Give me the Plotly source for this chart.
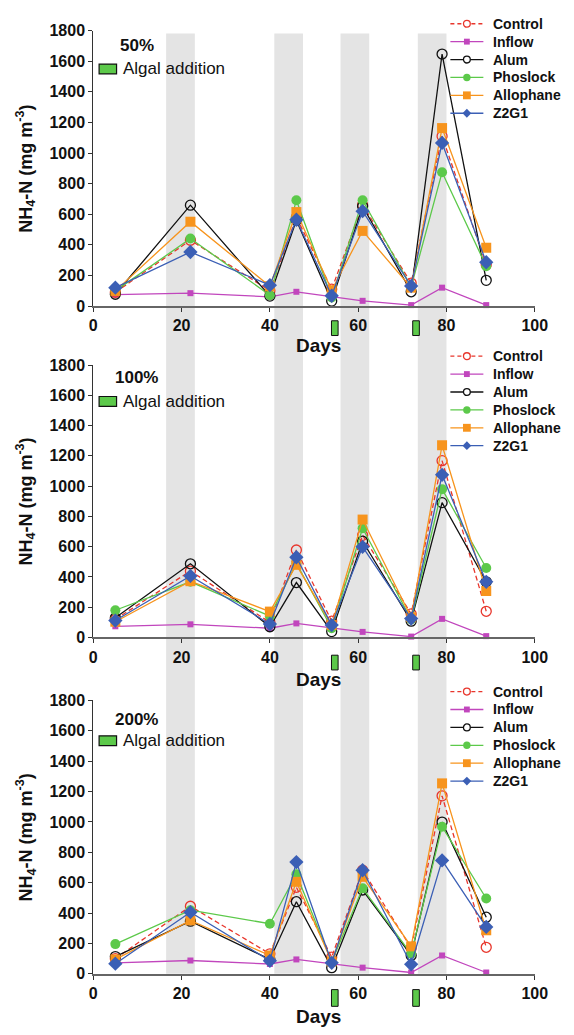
import plotly.graph_objects as go

W, H = 574, 1035

days = [5, 22, 40, 46, 54, 61, 72, 79, 89]
inflow_days = [5, 22, 40, 46, 61, 72, 79, 89]
series_names = ["Control", "Inflow", "Alum", "Phoslock", "Allophane", "Z2G1"]
panel_labels = ["50%", "100%", "200%"]
shade_periods = [(16.5, 23.0), (41.0, 47.5), (56.0, 62.5), (73.5, 80.0)]
algal_days = [54.7, 73.1]
x_ticks = [0, 20, 40, 60, 80, 100]
y_ticks = [0, 200, 400, 600, 800, 1000, 1200, 1400, 1600, 1800]

# Panel 1 (50%)
p1_control = [90, 430, 100, 580, 110, 660, 150, 1110, 270]
p1_inflow = [75, 84, 60, 93, 34, 6, 120, 6]
p1_alum = [77, 659, 65, 560, 32, 652, 93, 1647, 168]
p1_phoslock = [99, 441, 71, 691, 56, 691, 125, 874, 260]
p1_allophane = [99, 551, 129, 614, 103, 491, 120, 1163, 381]
p1_z2g1 = [120, 353, 136, 564, 67, 620, 131, 1066, 286]

# Panel 2 (100%)
p2_control = [120, 439, 100, 578, 108, 675, 156, 1168, 173]
p2_inflow = [74, 87, 61, 93, 37, 6, 123, 9]
p2_alum = [130, 487, 71, 363, 39, 636, 108, 891, 368]
p2_phoslock = [180, 368, 141, 490, 61, 722, 119, 980, 459]
p2_allophane = [104, 372, 171, 480, 82, 779, 134, 1270, 307]
p2_z2g1 = [112, 407, 89, 530, 82, 599, 125, 1075, 368]

# Panel 3 (200%)
p3_control = [100, 445, 132, 570, 110, 682, 170, 1172, 175]
p3_inflow = [73, 88, 65, 95, 41, 9, 121, 9]
p3_alum = [114, 347, 95, 475, 41, 552, 121, 999, 373]
p3_phoslock = [196, 419, 330, 656, 78, 563, 132, 969, 496]
p3_allophane = [95, 352, 121, 606, 82, 639, 181, 1254, 287]
p3_z2g1 = [67, 406, 86, 736, 73, 682, 63, 747, 309]

panels = [
    [p1_control, p1_inflow, p1_alum, p1_phoslock, p1_allophane, p1_z2g1],
    [p2_control, p2_inflow, p2_alum, p2_phoslock, p2_allophane, p2_z2g1],
    [p3_control, p3_inflow, p3_alum, p3_phoslock, p3_allophane, p3_z2g1],
]

FONT = "Liberation Sans, Arial, Helvetica, sans-serif"
styles = {
    "Control": dict(color="#e8362c", symbol="circle-open", size=10, dash="5px,3px", width=1.3, mlw=1.3),
    "Inflow": dict(color="#c146bd", symbol="square", size=6, dash="solid", width=1.3, mlw=0),
    "Alum": dict(color="#111111", symbol="circle-open", size=10, dash="solid", width=1.3, mlw=1.3),
    "Phoslock": dict(color="#5cc94a", symbol="circle", size=10, dash="solid", width=1.3, mlw=0),
    "Allophane": dict(color="#f7941d", symbol="square", size=10, dash="solid", width=1.3, mlw=0),
    "Z2G1": dict(color="#3b5fb5", symbol="diamond", size=11, dash="solid", width=1.3, mlw=0),
}
# legend key marker half-sizes (px)
legend_half = {"Control": 3.5, "Inflow": 3, "Alum": 3.5, "Phoslock": 3.8, "Allophane": 4, "Z2G1": 4.5}

# pixel layout
x_left, x_right = 92, 547
y_tops = [23, 363, 704]
y_bots = [303, 640, 982]
legend_first_row = [16, 354, 695]
legend_step = 18.2
label_y = [38, 376, 723]
box_y = [(57, 67), (395, 405), (740, 750)]
days_y = [343, 683, 1025]
marker_y = [(318, 333), (658, 673), (998, 1015)]


def py(p):
    return 1 - p / H


def px(p):
    return p / W


fig = go.Figure()
draw_order = ["Inflow", "Control", "Alum", "Phoslock", "Allophane", "Z2G1"]

for i, data in enumerate(panels):
    xa = "x" if i == 0 else f"x{i+1}"
    ya = "y" if i == 0 else f"y{i+1}"
    for name in draw_order:
        k = series_names.index(name)
        s = styles[name]
        xs = inflow_days if name == "Inflow" else days
        fig.add_trace(go.Scatter(
            x=xs, y=data[k], name=name, mode="lines+markers",
            xaxis=xa, yaxis=ya, showlegend=False,
            line=dict(color=s["color"], width=s["width"], dash=s["dash"]),
            marker=dict(color=s["color"], symbol=s["symbol"], size=s["size"],
                        line=dict(color=s["color"], width=s["mlw"])),
            cliponaxis=False,
        ))

layout = dict(
    width=W, height=H, margin=dict(l=0, r=0, t=0, b=0),
    paper_bgcolor="white", plot_bgcolor="rgba(0,0,0,0)",
    font=dict(family=FONT, color="#111111"),
    showlegend=False,
)

axis_x = dict(range=[0, 100], tickvals=x_ticks, ticks="outside", ticklen=4, tickwidth=1,
              tickcolor="#333", showline=True, linecolor="#666", linewidth=2,
              showgrid=False, zeroline=False,
              tickfont=dict(family=FONT, size=16, color="#111", weight="bold"), fixedrange=True)
axis_y = dict(range=[0, 1800], tickvals=y_ticks, ticks="outside", ticklen=4, tickwidth=1,
              tickcolor="#333", showline=True, linecolor="#333", linewidth=1,
              showgrid=False, zeroline=False,
              tickfont=dict(family=FONT, size=16, color="#111", weight="bold"), fixedrange=True)

annotations = []
shapes = []

# shaded periods spanning all panels
for a, b in shade_periods:
    shapes.append(dict(type="rect", xref="x", yref="paper", x0=a, x1=b,
                       y0=py(y_bots[2]), y1=py(y_tops[0] + 3), fillcolor="#e4e4e4",
                       line=dict(width=0), layer="below"))

for i in range(3):
    xk = "xaxis" if i == 0 else f"xaxis{i+1}"
    yk = "yaxis" if i == 0 else f"yaxis{i+1}"
    ya = "y" if i == 0 else f"y{i+1}"
    xa = "x" if i == 0 else f"x{i+1}"
    layout[xk] = dict(axis_x, domain=[px(x_left), px(x_right)], anchor=ya)
    layout[yk] = dict(axis_y, domain=[py(y_bots[i]), py(y_tops[i])], anchor=xa)
    # y axis title
    annotations.append(dict(
        text="NH<sub>4</sub>-N (mg m<sup>-3</sup>)", xref="paper", yref="paper",
        x=px(22), y=py((y_tops[i] + y_bots[i]) / 2), textangle=-90, showarrow=False,
        font=dict(family=FONT, size=18, color="#111", weight="bold"),
        xanchor="center", yanchor="middle"))
    # x axis title
    annotations.append(dict(
        text="Days", xref="paper", yref="paper", x=px(324), y=py(days_y[i]),
        showarrow=False, font=dict(family=FONT, size=19, color="#111", weight="bold"),
        xanchor="center", yanchor="middle"))
    # panel label
    annotations.append(dict(
        text=panel_labels[i], xref="paper", yref="paper", x=px(137), y=py(label_y[i]),
        showarrow=False, font=dict(family=FONT, size=17, color="#111", weight="bold"),
        xanchor="center", yanchor="middle"))
    # algal addition key
    shapes.append(dict(type="rect", xref="paper", yref="paper",
                       x0=px(98), x1=px(116), y0=py(box_y[i][1]), y1=py(box_y[i][0]),
                       fillcolor="#5cc94a", line=dict(color="#111", width=1.2)))
    annotations.append(dict(
        text="Algal addition", xref="paper", yref="paper", x=px(121),
        y=py((box_y[i][0] + box_y[i][1]) / 2), showarrow=False,
        font=dict(family=FONT, size=17, color="#111"), xanchor="left", yanchor="middle"))
    # algal addition markers below axis
    for d in algal_days:
        shapes.append(dict(type="rect", xref=xa, yref="paper", x0=d - 0.75, x1=d + 0.75,
                           y0=py(marker_y[i][1]), y1=py(marker_y[i][0]),
                           fillcolor="#5cc94a", line=dict(color="#111", width=1)))
    # legend (custom, compact row spacing)
    for r, name in enumerate(series_names):
        s = styles[name]
        yc = legend_first_row[i] + r * legend_step
        shapes.append(dict(type="line", xref="paper", yref="paper",
                           x0=px(460), x1=px(494), y0=py(yc), y1=py(yc),
                           line=dict(color=s["color"], width=1.3,
                                     dash="4px,3px" if name == "Control" else "solid")))
        h = legend_half[name]
        cx = 477
        if s["symbol"].startswith("circle"):
            filled = s["symbol"] == "circle"
            shapes.append(dict(type="circle", xref="paper", yref="paper",
                               x0=px(cx - h), x1=px(cx + h), y0=py(yc + h), y1=py(yc - h),
                               fillcolor=s["color"] if filled else "white",
                               line=dict(color=s["color"], width=0 if filled else 1.3)))
        elif s["symbol"] == "square":
            shapes.append(dict(type="rect", xref="paper", yref="paper",
                               x0=px(cx - h), x1=px(cx + h), y0=py(yc + h), y1=py(yc - h),
                               fillcolor=s["color"], line=dict(width=0)))
        else:
            path = (f"M {px(cx)} {py(yc - h)} L {px(cx + h)} {py(yc)} "
                    f"L {px(cx)} {py(yc + h)} L {px(cx - h)} {py(yc)} Z")
            shapes.append(dict(type="path", xref="paper", yref="paper", path=path,
                               fillcolor=s["color"], line=dict(width=0)))
        annotations.append(dict(
            text=name, xref="paper", yref="paper", x=px(502), y=py(yc),
            showarrow=False, font=dict(family=FONT, size=14, color="#111", weight="bold"),
            xanchor="left", yanchor="middle"))

layout["annotations"] = annotations
layout["shapes"] = shapes
fig.update_layout(**layout)
fig.write_html("out.html")
